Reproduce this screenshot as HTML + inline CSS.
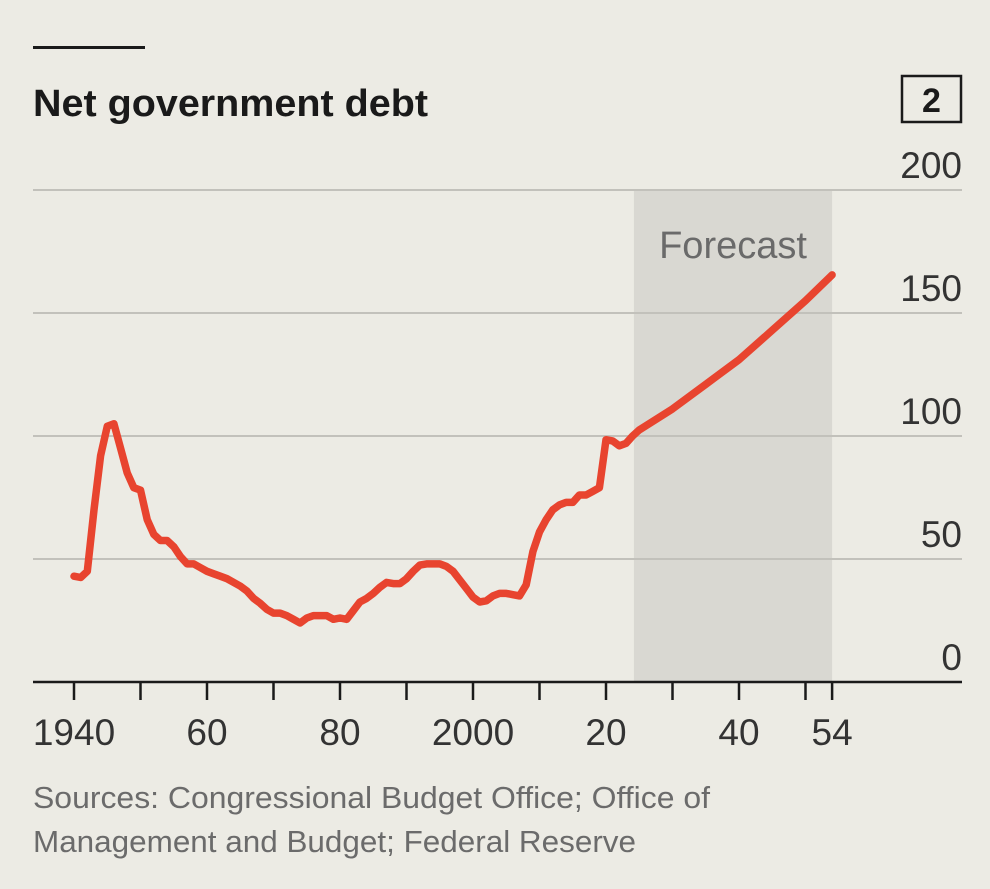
<!DOCTYPE html>
<html><head><meta charset="utf-8"><style>
body{margin:0;background:#ecebe4;}
svg{display:block;font-family:"Liberation Sans",sans-serif;}
</style></head><body>
<svg width="990" height="889" viewBox="0 0 990 889">
<rect width="990" height="889" fill="#ecebe4"/>
<rect x="33" y="46" width="112" height="3" fill="#1a1a1a"/>
<text x="33" y="116" font-size="38" font-weight="bold" fill="#1a1a1a" textLength="395" lengthAdjust="spacingAndGlyphs">Net government debt</text>
<rect x="902" y="76" width="59" height="46" fill="none" stroke="#1a1a1a" stroke-width="2.5"/>
<text x="931.5" y="112" font-size="34" font-weight="bold" text-anchor="middle" fill="#1a1a1a">2</text>
<g id="plot"></g>
<text x="33" y="808" font-size="31" fill="#6b6b6b" textLength="677" lengthAdjust="spacingAndGlyphs">Sources: Congressional Budget Office; Office of</text>
<text x="33" y="852" font-size="31" fill="#6b6b6b" textLength="603" lengthAdjust="spacingAndGlyphs">Management and Budget; Federal Reserve</text>
</svg>
<script>
const years=[1940,1941,1942,1943,1944,1945,1946,1947,1948,1949,1950,1951,1952,1953,1954,1955,1956,1957,1958,1959,1960,1961,1962,1963,1964,1965,1966,1967,1968,1969,1970,1971,1972,1973,1974,1975,1976,1977,1978,1979,1980,1981,1982,1983,1984,1985,1986,1987,1988,1989,1990,1991,1992,1993,1994,1995,1996,1997,1998,1999,2000,2001,2002,2003,2004,2005,2006,2007,2008,2009,2010,2011,2012,2013,2014,2015,2016,2017,2018,2019,2020,2021,2022,2023,2024,2025,2030,2035,2040,2045,2050,2054];
const debt=[43,42.5,45,70,92,104,105,95,85,79,78,66,60,57.5,57.5,55,51,48,48,46.5,45,44,43,42,40.5,39,37,34,32,29.5,28,28,27,25.5,24,26,27,27,27,25.5,26,25.5,29,32.5,34,36,38.5,40.5,40,40,42,45,47.5,48,48,48,47,45,41.5,38,34.5,32.5,33,35,36,36,35.5,35,39.5,53,61,66,70,72,73,73,76,76,77.5,79,98.5,98,96,97,100,102.5,111,121,131,143,155,165.5];
const yTicks=[0,50,100,150,200];
const xTicks=[1940,1950,1960,1970,1980,1990,2000,2010,2020,2030,2040,2050,2054];
const xLabels={1940:"1940",1960:"60",1980:"80",2000:"2000",2020:"20",2040:"40",2054:"54"};
const forecastStart=2024.2, forecastEnd=2054;

const X=v=>74+(v-1940)*6.65;
const Y=v=>682-v*2.46;
const NS="http://www.w3.org/2000/svg";
const g=document.getElementById('plot');
function mk(t,a){const e=document.createElementNS(NS,t);for(const k in a)e.setAttribute(k,a[k]);g.appendChild(e);return e;}

const band=mk('rect',{x:X(forecastStart),y:Y(200),width:X(forecastEnd)-X(forecastStart),height:Y(0)-Y(200),fill:'#d9d8d2'});


const ft=mk('text',{x:(X(forecastStart)+X(forecastEnd))/2,y:258,'font-size':38,'text-anchor':'middle',fill:'#6a6a6a'});
ft.textContent='Forecast';



yTicks.forEach(t=>{
  if(t>0){const l=mk('line',{x1:33,x2:962,y1:Y(t),y2:Y(t),stroke:'#c2c1bb','stroke-width':2});
  
  }
  const tx=mk('text',{x:962,y:Y(t)-12,'font-size':37,'text-anchor':'end',fill:'#333'});
  tx.textContent=t;
  
  
});

const ax=mk('line',{x1:33,x2:962,y1:Y(0),y2:Y(0),stroke:'#1a1a1a','stroke-width':2.5});


xTicks.forEach(t=>{
  const l=mk('line',{x1:X(t),x2:X(t),y1:Y(0),y2:Y(0)+18,stroke:'#1a1a1a','stroke-width':2.5});
  
  
  if(xLabels[t]){const tx=mk('text',{x:X(t),y:745,'font-size':37,'text-anchor':'middle',fill:'#333'});
  tx.textContent=xLabels[t];
  
  }
});

const d=years.map((yr,i)=>(i?'L':'M')+X(yr).toFixed(1)+','+Y(debt[i]).toFixed(1)).join('');
const p=mk('path',{d:d,fill:'none',stroke:'#e8442f','stroke-width':7.5,'stroke-linejoin':'round','stroke-linecap':'round'});


</script>
</body></html>
